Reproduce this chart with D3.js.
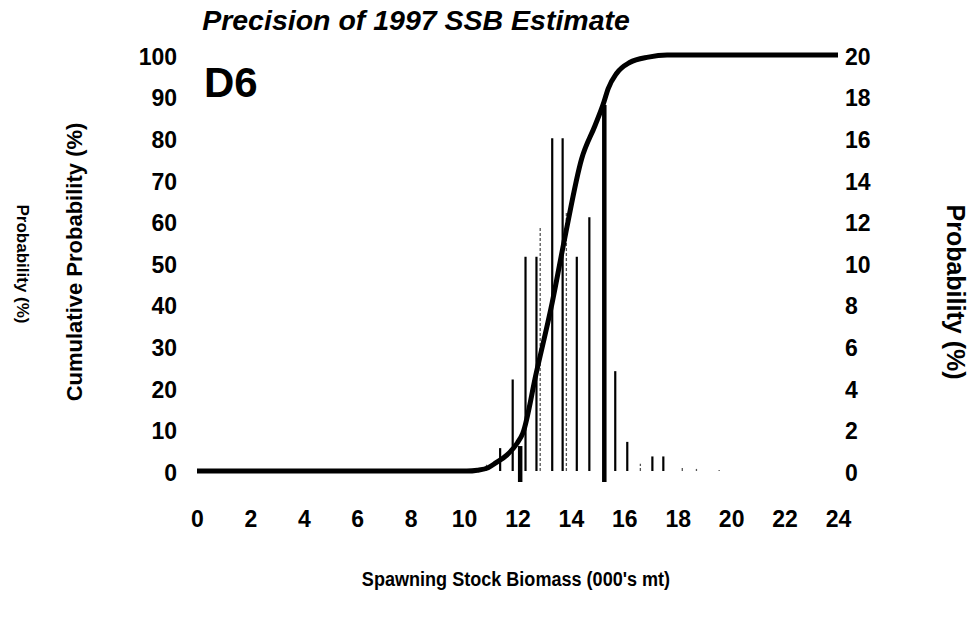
<!DOCTYPE html>
<html><head><meta charset="utf-8">
<script src="https://cdn.jsdelivr.net/npm/d3@7"></script>
<style>
html,body{margin:0;padding:0;background:#fff;}
svg text{font-family:"Liberation Sans",Arial,Helvetica,sans-serif;font-weight:bold;fill:#000;}
</style></head>
<body>
<svg id="chart" width="976" height="632"></svg>
<script>
// ---- data ----
const xTicks = [0,2,4,6,8,10,12,14,16,18,20,22,24];
const leftTicks = [0,10,20,30,40,50,60,70,80,90,100];
const rightTicks = [0,2,4,6,8,10,12,14,16,18,20];
// histogram: SSB bin position (000's mt) and probability (%)
const binSSB  = [10.84, 11.35, 11.82, 12.30, 12.71, 12.85, 13.30, 13.69, 13.83, 14.22, 14.69, 15.66, 16.11, 16.60, 17.05, 17.46, 18.17, 18.70, 19.55];
const binProb = [0.3,   1.1,   4.4,   10.3,  10.3,  11.7,  16.0,  16.0,  12.4,  10.3,  12.2,  4.8,   1.4,   0.35,  0.7,   0.7,   0.2,   0.1,   0.05];
const binFaint = [true, false, false, false, false, true, false, false, true, false, false, false, false, true, false, false, true, true, true];
// cumulative probability curve
const cumSSB = [0, 10.1, 10.5, 10.9, 11.2, 11.6, 12.0, 12.2, 12.7, 13.3, 13.8, 14.4, 14.9, 15.2, 15.4, 15.7, 16.2, 16.9, 17.6, 24];
const cumPct = [0, 0,    0.2,  0.8,  2.0,  3.8,  6.8,  9.1,  23.5, 40.5, 57,   75,   83,   88,   92,   95.5, 98.2, 99.5, 100,  100];
// reference markers
const markerSSB = [12.1, 15.25];
const markerTop = [6, 88];

// ---- layout ----
const svg = d3.select("#chart");
const x = d3.scaleLinear().domain([0,24]).range([197,838]);
const yL = d3.scaleLinear().domain([0,100]).range([471,55]);
const yR = d3.scaleLinear().domain([0,20]).range([471,55]);

// axes (labels only, no lines)
const axB = svg.append("g").attr("transform","translate(0,471)")
  .call(d3.axisBottom(x).tickValues(xTicks).tickSize(0).tickPadding(40).tickFormat(d3.format("d")));
const axL = svg.append("g").attr("transform","translate(177,0)")
  .call(d3.axisLeft(yL).tickValues(leftTicks).tickSize(0).tickPadding(0).tickFormat(d3.format("d")));
const axR = svg.append("g").attr("transform","translate(845,0)")
  .call(d3.axisRight(yR).tickValues(rightTicks).tickSize(0).tickPadding(0).tickFormat(d3.format("d")));
[axB,axL,axR].forEach(a=>{
  a.select(".domain").remove();
  a.selectAll("text").style("font-size","23px").style("font-family",'"Liberation Sans",Arial,sans-serif').style("font-weight","bold").attr("fill","#000");
});
axL.selectAll("text").attr("dy","0.4em");
axR.selectAll("text").attr("dy","0.4em");

// histogram bars
const bars = binSSB.map((s,i)=>({s, p:binProb[i], faint:binFaint[i]}));
svg.append("g").selectAll("line").data(bars).join("line")
  .attr("x1",d=>x(d.s)).attr("x2",d=>x(d.s))
  .attr("y1",yR(0)).attr("y2",d=>yR(d.p))
  .attr("stroke",d=>d.faint?"#555":"#000")
  .attr("stroke-width",d=>d.faint?1.3:2.2)
  .attr("stroke-dasharray",d=>d.faint?"3,2":null);

// markers
svg.append("g").selectAll("line").data(markerSSB.map((s,i)=>({s,t:markerTop[i]}))).join("line")
  .attr("x1",d=>x(d.s)).attr("x2",d=>x(d.s))
  .attr("y1",yL(0)+11).attr("y2",d=>yL(d.t))
  .attr("stroke","#000").attr("stroke-width",4.5);

// cumulative curve
const cum = cumSSB.map((s,i)=>({s,p:cumPct[i]}));
svg.append("path").datum(cum)
  .attr("fill","none").attr("stroke","#000").attr("stroke-width",5).attr("stroke-linejoin","round")
  .attr("d", d3.line().x(d=>x(d.s)).y(d=>yL(d.p)).curve(d3.curveMonotoneX));

// texts
svg.append("text").attr("x",416).attr("y",30).attr("text-anchor","middle")
  .style("font-size","28.5px").style("font-style","italic").text("Precision of 1997 SSB Estimate");
svg.append("text").attr("x",204).attr("y",97).style("font-size","42px").text("D6");
svg.append("text").attr("transform","translate(82,262) rotate(-90)").attr("text-anchor","middle")
  .style("font-size","22px").text("Cumulative Probability (%)");
svg.append("text").attr("transform","translate(17,264) rotate(90)").attr("text-anchor","middle")
  .style("font-size","17px").text("Probability (%)");
svg.append("text").attr("transform","translate(947,292) rotate(90)").attr("text-anchor","middle")
  .style("font-size","25px").text("Probability (%)");
svg.append("text").attr("transform","translate(516,586) scale(0.86,1)").attr("text-anchor","middle")
  .style("font-size","21px").text("Spawning Stock Biomass (000's mt)");
</script>
</body></html>
